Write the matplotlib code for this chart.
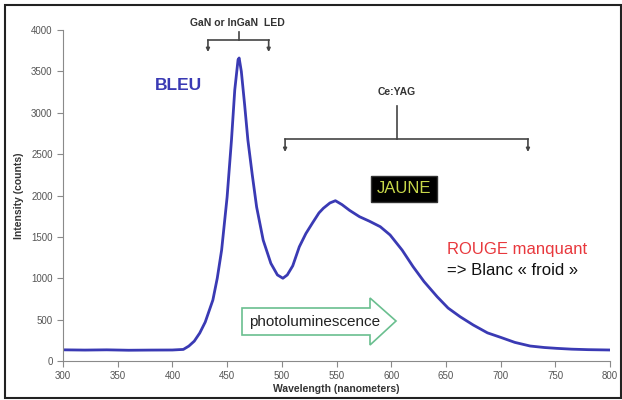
import numpy as np
import matplotlib.pyplot as plt
from matplotlib.patches import Rectangle, Polygon

plt.rcParams['font.family'] = ['Liberation Sans', 'DejaVu Sans']

# spectrum (nm, counts)
wavelength = [300, 320, 340, 360, 380, 400, 410, 415, 420, 425, 430, 437, 441, 445,
              450, 454, 457, 460, 461, 463, 466, 469, 473, 477, 483, 490, 496, 501,
              505, 510, 516, 522, 528, 534, 538, 544, 549, 555, 562, 571, 580, 590,
              599, 610, 620, 630, 642, 652, 663, 675, 688, 700, 713, 727, 740, 751,
              765, 780, 800]
intensity = [135, 132, 135, 130, 132, 133, 140, 180, 240, 338, 470, 737, 1000, 1341,
             1980, 2670, 3275, 3640, 3662, 3500, 3100, 2670, 2250, 1860, 1460, 1180, 1040, 1000,
             1040, 1150, 1380, 1540, 1667, 1790, 1846, 1910, 1937, 1890, 1820, 1744, 1690, 1623,
             1523, 1340, 1140, 960, 777, 640, 535, 435, 340, 286, 225, 181, 163, 153,
             143, 137, 133]

x_ticks = [300, 350, 400, 450, 500, 550, 600, 650, 700, 750, 800]
y_ticks = [0, 500, 1000, 1500, 2000, 2500, 3000, 3500, 4000]

fig = plt.figure(figsize=(6.22, 4.0), dpi=100)
ax = fig.add_axes([63 / 622, 39 / 400, 547 / 622, 331 / 400])

ax.plot(wavelength, intensity, color='#3a3ab4', lw=2)

ax.set_xlim(300, 800)
ax.set_ylim(0, 4000)
ax.set_xticks(x_ticks)
ax.set_yticks(y_ticks)
for s in ['top', 'right']:
    ax.spines[s].set_visible(False)
for s in ['left', 'bottom']:
    ax.spines[s].set_color('#8a8a8a')
ax.tick_params(colors='#8a8a8a', labelcolor='#555555', labelsize=7, length=4, direction='out')
ax.set_xlabel('Wavelength (nanometers)', fontsize=7.5, fontweight='bold', color='#333333', labelpad=2)
ax.set_ylabel('Intensity (counts)', fontsize=7.5, fontweight='bold', color='#333333', labelpad=5)

# brackets
bc = '#444444'


def bracket(x0, x1, xc, y, ydrop, ytop):
    ax.plot([x0, x1], [y, y], color=bc, lw=1.2, clip_on=False)
    ax.plot([xc, xc], [y, ytop], color=bc, lw=1.2, clip_on=False)
    for xe in (x0, x1):
        ax.annotate('', xy=(xe, ydrop), xytext=(xe, y), annotation_clip=False,
                    arrowprops=dict(arrowstyle='-|>', color=bc, lw=1.2,
                                    mutation_scale=5, shrinkA=0, shrinkB=0))


bracket(432.5, 488, 461, 3879, 3734, 3976)
ax.text(459, 4085, 'GaN or InGaN  LED', fontsize=7.5, fontweight='bold', color='#333333',
        ha='center', va='center', clip_on=False)

bracket(503, 725, 605, 2683, 2526, 3082)
ax.text(605, 3251, 'Ce:YAG', fontsize=7.5, fontweight='bold', color='#333333',
        ha='center', va='center')

ax.text(384, 3335, 'BLEU', fontsize=12.5, fontweight='bold', color='#3a3ab4',
        ha='left', va='center')

ax.text(611.5, 2079, 'JAUNE', fontsize=12, color='#c8d84a', ha='center', va='center',
        bbox=dict(boxstyle='square,pad=0.35', fc='black', ec='#333333'))

ax.text(651, 1350, 'ROUGE manquant', fontsize=12, color='#e8383d', ha='left', va='center')
ax.text(651, 1095, '=> Blanc « froid »', fontsize=12, color='#111111', ha='left', va='center')

# photoluminescence arrow (figure pixel coords)
px = lambda x, y: (x / 622, 1 - y / 400)
arrow_pts = [px(242, 308), px(370, 308), px(370, 298), px(396, 321), px(370, 345),
             px(370, 335), px(242, 335)]
fig.patches.append(Polygon(arrow_pts, closed=True, fc='white', ec='#6abf8f', lw=1.2,
                           transform=fig.transFigure, figure=fig, zorder=3))
fig.text(315 / 622, 1 - 322 / 400, 'photoluminescence', fontsize=11, color='#222222',
         ha='center', va='center', zorder=4)

# outer frame
fig.patches.append(Rectangle((5 / 622, 2 / 400), 616 / 622, 393 / 400, fill=False,
                             ec='#222222', lw=1.5, transform=fig.transFigure, figure=fig))

fig.savefig('out.png', dpi=100)
